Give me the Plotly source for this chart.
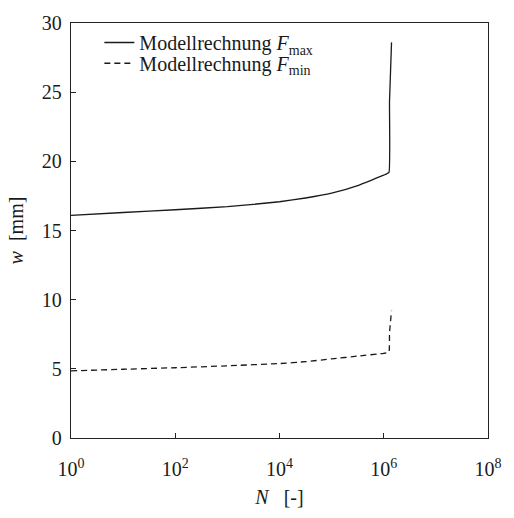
import plotly.graph_objects as go

# Load cycles N and deflection w [mm] from the model calculation
n_max = [1, 10, 1e2, 1e3, 1e4, 3.16e4, 1e5, 3.16e5, 1e6, 1.26e6, 1.29e6, 1.41e6]
w_max = [16.1, 16.3, 16.5, 16.72, 17.08, 17.35, 17.7, 18.25, 19.0, 19.2, 24.3, 28.6]

n_min = [1, 10, 1e2, 1e3, 1e4, 3.16e4, 1e5, 3.16e5, 1e6, 1.26e6, 1.29e6, 1.41e6]
w_min = [4.85, 4.97, 5.08, 5.22, 5.38, 5.52, 5.72, 5.92, 6.12, 6.2, 7.6, 9.2]

x_tickvals = [1, 1e2, 1e4, 1e6, 1e8]
x_ticktext = ["10<sup>0</sup>", "10<sup>2</sup>", "10<sup>4</sup>", "10<sup>6</sup>", "10<sup>8</sup>"]

FONT = "Liberation Serif"
NBSP = "\u00a0"

fig = go.Figure()
fig.add_trace(go.Scatter(
    x=n_max, y=w_max, mode="lines", line_shape="spline",
    name="Modellrechnung <i>F</i><sub>max</sub>",
    line=dict(color="#1a1a1a", width=1.3, smoothing=0.3),
    legend="legend",
))
fig.add_trace(go.Scatter(
    x=n_min, y=w_min, mode="lines", line_shape="spline",
    name="Modellrechnung <i>F</i><sub>min</sub>",
    line=dict(color="#1a1a1a", width=1.3, dash="6px,4px", smoothing=0.3),
    legend="legend2",
))

axis_common = dict(
    showgrid=False, zeroline=False,
    showline=True, linecolor="#222", linewidth=1.4, mirror=True,
    ticks="inside", ticklen=5, tickwidth=1, tickcolor="#222",
    tickfont=dict(family=FONT, size=20, color="#1a1a1a"),
)

legend_common = dict(
    xanchor="left", yanchor="top",
    bgcolor="rgba(0,0,0,0)", borderwidth=0,
    font=dict(family=FONT, size=20, color="#1a1a1a"),
)

fig.update_layout(
    width=514, height=518,
    margin=dict(l=71, r=18, t=14, b=80),
    paper_bgcolor="white", plot_bgcolor="white",
    font=dict(family=FONT, size=20, color="#1a1a1a"),
    xaxis=dict(
        type="log", range=[0, 8],
        tickvals=x_tickvals, ticktext=x_ticktext,
        ticklabelstandoff=13,
        title=dict(text="<i>N</i>" + NBSP * 3 + "[-]", font=dict(family=FONT, size=20), standoff=10),
        **axis_common,
    ),
    yaxis=dict(
        range=[0, 30], dtick=5,
        ticklabelstandoff=4,
        title=dict(text="<i>w</i>" + NBSP * 2 + "[mm]", font=dict(family=FONT, size=20), standoff=12),
        **axis_common,
    ),
    legend=dict(x=0.068, y=1.0, **legend_common),
    legend2=dict(x=0.068, y=0.950, **legend_common),
    showlegend=True,
)

fig.write_html("out.html")
